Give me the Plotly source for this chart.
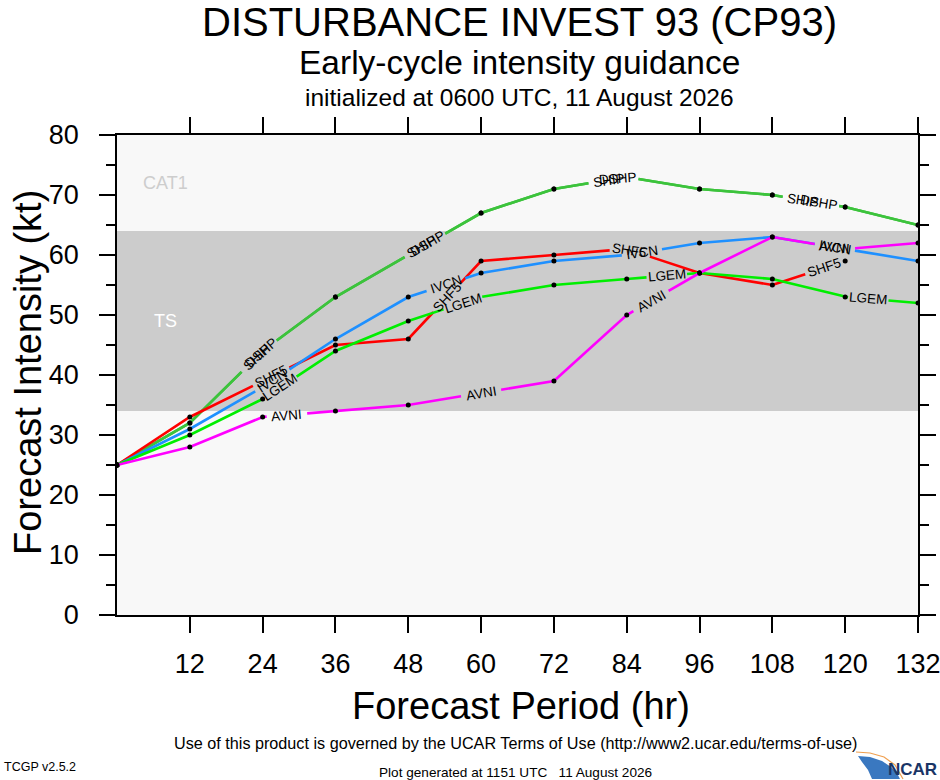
import numpy as np
import plotly.graph_objects as go

# forecast hours and intensities (kt)
hours = [0, 12, 24, 36, 48, 60, 72, 84, 96, 108, 120, 132]
ship = [25, 32, 44, 53, 60, 67, 71, 73, 71, 70, 68, 65]
dshp = [25, 32, 44, 53, 60, 67, 71, 73, 71, 70, 68, 65]
shf5 = [25, 33, 39, 45, 46, 59, 60, 61, 57, 55, 59]
ivcn = [25, 31, 38, 46, 53, 57, 59, 60, 62, 63, 61, 59]
lgem = [25, 30, 36, 44, 49, 53, 55, 56, 57, 56, 53, 52]
avni = [25, 28, 33, 34, 35, 37, 39, 50, 57, 63, 61, 62]

xticks = [12, 24, 36, 48, 60, 72, 84, 96, 108, 120, 132]

# where the in-line labels sit (forecast hour)
label_hours = {
    "SHIP": [23, 50.3, 81, 113],
    "DSHP": [23.8, 51.2, 82.6, 115.7],
    "SHF5": [25.4, 54.4, 84.5, 116.6],
    "IVCN": [25.6, 54.2, 86.5, 118.3],
    "LGEM": [26.8, 57, 90.6, 123.8],
    "AVNI": [28, 60, 88, 118.3],
}

models = [
    ("SHIP", ship, "#3cc33c"),
    ("DSHP", dshp, "#3cc33c"),
    ("SHF5", shf5, "#ff0000"),
    ("IVCN", ivcn, "#1e90ff"),
    ("LGEM", lgem, "#00ee00"),
    ("AVNI", avni, "#ff00ff"),
]

W, H = 940, 780
PL, PT, PW, PH = 117, 135, 801, 480          # plot area in pixels
L, T = PL, PT
R, B = W - L - PW, H - T - PH
px_h = PW / 132.0
px_kt = PH / 80.0
FONT = "Liberation Sans"
LAB_SIZE = 13.5


def px(x):
    return (x - PL) / PW


def py(y):
    return (PT + PH - y) / PH


def label_geom(hrs, vals, h, text):
    # text width in px, then chord across it to get the angle
    w = 0.66 * LAB_SIZE * len(text) + 5
    half = w / 2 / px_h
    for _ in range(3):
        a, b = max(h - half, hrs[0]), min(h + half, hrs[-1])
        dy = (np.interp(b, hrs, vals) - np.interp(a, hrs, vals)) * px_kt
        dx = (b - a) * px_h
        ang = np.arctan2(dy, dx)
        half = w / 2 * np.cos(ang) / px_h
    return half, -np.degrees(ang)


def cut_line(hrs, vals, cuts):
    cuts = sorted((max(a, hrs[0]), min(b, hrs[-1])) for a, b in cuts)
    merged = []
    for a, b in cuts:
        if merged and a <= merged[-1][1]:
            merged[-1][1] = max(merged[-1][1], b)
        else:
            merged.append([a, b])
    xs, ys = [], []
    edges = sorted(set(hrs) | {c for ab in merged for c in ab})
    for h in edges:
        if any(a < h < b for a, b in merged):
            continue
        xs.append(h)
        ys.append(float(np.interp(h, hrs, vals)))
        if any(abs(h - a) < 1e-9 for a, b in merged):
            xs.append(None)
            ys.append(None)
    return xs, ys, merged


def text_at(x, y, text, size, color="black", angle=0, xanchor="center", bold=False):
    return dict(x=px(x), y=py(y), xref="paper", yref="paper", showarrow=False,
                text=f"<b>{text}</b>" if bold else text, textangle=angle,
                xanchor=xanchor, yanchor="middle",
                font=dict(family=FONT, size=size, color=color))


fig = go.Figure()
annotations = []

# label cuts per model
cuts = {}
for name, vals, color in models:
    hrs = hours[:len(vals)]
    cuts[name] = []
    for h in label_hours[name]:
        half, ang = label_geom(hrs, vals, h, name)
        cuts[name].append((h - half, h + half))
        annotations.append(dict(
            x=h, y=float(np.interp(h, hrs, vals)), xref="x", yref="y",
            text=name, textangle=ang, showarrow=False,
            font=dict(family=FONT, size=LAB_SIZE, color="black"),
            xanchor="center", yanchor="middle",
        ))

for name, vals, color in models:
    hrs = hours[:len(vals)]
    my_cuts = list(cuts[name])
    for other, ovals, _ in models:   # coincident lines share gaps
        if other != name and list(ovals) == list(vals):
            my_cuts += cuts[other]
    xs, ys, merged = cut_line(hrs, vals, my_cuts)
    fig.add_trace(go.Scatter(x=xs, y=ys, mode="lines", name=name,
                             line=dict(color=color, width=2.6),
                             connectgaps=False, showlegend=False))
    mx = [h for h in hrs if not any(a < h < b for a, b in merged)]
    my = [v for h, v in zip(hrs, vals) if not any(a < h < b for a, b in merged)]
    fig.add_trace(go.Scatter(x=mx, y=my, mode="markers", showlegend=False,
                             marker=dict(color="black", size=5)))

# intensity band
fig.add_shape(type="rect", xref="paper", yref="y", x0=0, x1=1, y0=34, y1=64,
              fillcolor="#cccccc", line=dict(width=0), layer="below")

annotations += [
    dict(x=px(165), y=72, xref="paper", yref="y", text="CAT1", showarrow=False,
         xanchor="center", yanchor="middle",
         font=dict(family=FONT, size=18, color="#cdcdcd")),
    dict(x=px(165), y=49, xref="paper", yref="y", text="TS", showarrow=False,
         xanchor="center", yanchor="middle",
         font=dict(family=FONT, size=18, color="white")),
    text_at(519, 22, "DISTURBANCE INVEST 93 (CP93)", 40),
    text_at(519, 62, "Early-cycle intensity guidance", 33.5),
    text_at(519, 97, "initialized at 0600 UTC, 11 August 2026", 24.5),
    text_at(521, 706, "Forecast Period (hr)", 38),
    text_at(28, 373, "Forecast Intensity (kt)", 38, angle=-90),
    text_at(515, 743, "Use of this product is governed by the UCAR Terms of Use "
            "(http://www2.ucar.edu/terms-of-use)", 16.2),
    text_at(2, 767, "TCGP v2.5.2", 12.5, xanchor="left"),
    text_at(515, 772, "Plot generated at 1151 UTC &nbsp; 11 August 2026", 13.6),
    text_at(939, 769, "NCAR", 17, color="#1a3566", xanchor="right", bold=True),
]


# NCAR swoosh
def path(pts, close=True):
    d = "M " + " L ".join(f"{px(x):.4f},{py(y):.4f}" for x, y in pts)
    return d + " Z" if close else d


swoosh = [(858, 756), (870, 757), (882, 761), (891, 767), (897, 773), (900, 779), (872, 779),
          (868, 770), (862, 762)]
fig.add_shape(type="path", xref="paper", yref="paper", path=path(swoosh),
              fillcolor="#3a78c0", line=dict(width=0))
arc = [(856, 752), (870, 753), (884, 757), (895, 765), (903, 779)]
fig.add_shape(type="path", xref="paper", yref="paper", path=path(arc, close=False),
              line=dict(color="#f0a050", width=1.2))

axis_common = dict(showline=True, linecolor="black", linewidth=1.5, mirror="ticks",
                   ticks="outside", tickcolor="black", tickwidth=1.5, ticklen=16,
                   showgrid=False, zeroline=False, ticklabeloverflow="allow",
                   tickfont=dict(family=FONT, size=27, color="black"))

fig.update_xaxes(range=[0, 132], tickvals=xticks, ticklabelstandoff=8, **axis_common)
fig.update_yaxes(range=[0, 80], dtick=10, ticklabelstandoff=15,
                 minor=dict(dtick=5, ticks="outside", ticklen=9, tickcolor="black",
                            tickwidth=1.5, showgrid=False),
                 **axis_common)

fig.update_layout(
    width=W, height=H,
    margin=dict(l=L, r=R, t=T, b=B, autoexpand=False),
    plot_bgcolor="#f8f8f8", paper_bgcolor="white",
    annotations=annotations,
    showlegend=False,
)

# drop the default page margin so the figure sits at the window's corner
fig.write_html("out.html", config={"displayModeBar": False},
               post_script="document.body.style.margin='0';")
